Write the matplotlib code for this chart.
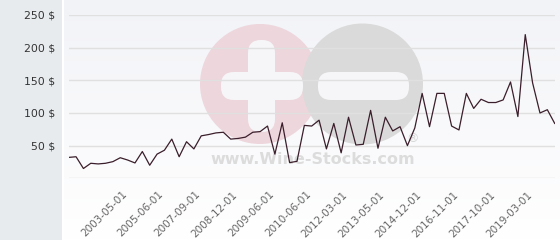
import numpy as np
import matplotlib
matplotlib.use("Agg")
import matplotlib.pyplot as plt
import matplotlib.transforms as mtransforms
from matplotlib.patches import Circle, FancyBboxPatch, Rectangle

# monthly price
prices = [32, 33, 15, 23, 22, 23, 25.5, 31.5, 28, 23.5,
          41, 20, 37, 43, 60, 33, 56, 45, 65, 67,
          69.5, 70.5, 60, 61, 63, 70.5, 71.5, 80, 37, 85,
          24, 26, 81, 80, 89, 45, 84, 39, 93.5, 51,
          52, 104, 46, 93.5, 72.5, 79, 50, 77, 130, 79,
          130, 130, 80, 74, 130, 107, 121, 116, 116, 120,
          147.5, 94.5, 220, 146, 100, 105, 84]

tick_labels = ["2003-05-01", "2005-06-01", "2007-09-01", "2008-12-01",
               "2009-06-01", "2010-06-01", "2012-03-01", "2013-05-01",
               "2014-12-01", "2016-11-01", "2017-10-01", "2019-03-01"]
y_ticks = [50, 100, 150, 200, 250]

W, H = 560, 240
fig = plt.figure(figsize=(W / 100, H / 100), dpi=100)

# background + watermark in pixel coordinates
bg = fig.add_axes([0, 0, 1, 1], zorder=0)
bg.axis("off")
bg.add_patch(Rectangle((0, 0), 62, H, color="#e8ebee", lw=0))
bg.add_patch(Rectangle((62, 0), 1.5, H, color="white", lw=0))
grad = np.linspace(0, 1, 100).reshape(-1, 1)
bg.imshow(grad, extent=(63.5, W, H, 0), cmap=matplotlib.colors.LinearSegmentedColormap.from_list(
    "g", ["#f2f3f7", "#ffffff"]), aspect="auto", zorder=0)
bg.set_xlim(0, W)
bg.set_ylim(H, 0)

bg.add_patch(Circle((260, 84), 60, color="#edd6dc", lw=0, zorder=1))
bg.add_patch(Circle((362.5, 84), 60.5, color="#dadada", lw=0, zorder=2))
# plus
bg.add_patch(FancyBboxPatch((221, 72), 82, 28, boxstyle="round,pad=0,rounding_size=13",
                            color="#f6f6f8", lw=0, zorder=3))
bg.add_patch(FancyBboxPatch((248, 40), 27, 92, boxstyle="round,pad=0,rounding_size=13",
                            color="#f6f6f8", lw=0, zorder=3))
# minus
bg.add_patch(FancyBboxPatch((318, 72), 91, 28, boxstyle="round,pad=0,rounding_size=13",
                            color="#f6f6f8", lw=0, zorder=3))
bg.text(313, 160, "www.Wine-Stocks.com", fontsize=11.5, fontweight="bold",
        color="#dcdcdc", ha="center", va="center", zorder=4)
bg.text(413, 139, "®", fontsize=9, color="#d6d6d6", ha="center", va="center", zorder=4)

# main chart
x = np.arange(len(prices))
ax = fig.add_axes([68.7 / W, 1 - 178.3 / H, (554.7 - 68.7) / W, (178.3 - 15) / H], zorder=1)
ax.patch.set_alpha(0)
ax.plot(x, prices, color="#3b1e2b", lw=0.9, zorder=3)
ax.set_xlim(0, len(prices) - 1)
ax.set_ylim(0, 250)
ax.set_yticks([0] + y_ticks)
ax.set_yticklabels([""] + [f"{v} $" for v in y_ticks])
ax.grid(axis="y", color="#e0e0e0", lw=1)
ax.set_axisbelow(True)
for s in ax.spines.values():
    s.set_visible(False)
ax.tick_params(axis="y", length=0, pad=10, labelsize=7.8, labelcolor="#333333")

tick_pos = np.arange(8, len(prices), 5)[:len(tick_labels)]
ax.set_xticks(tick_pos)
ax.set_xticklabels(tick_labels, rotation=45, ha="right", rotation_mode="anchor")
ax.tick_params(axis="x", length=0, pad=8, labelsize=7.5, labelcolor="#666666")
shift = mtransforms.ScaledTranslation(-6 / 100, 0, fig.dpi_scale_trans)
for lab in ax.get_xticklabels():
    lab.set_transform(lab.get_transform() + shift)

fig.savefig("out.png", dpi=100)
